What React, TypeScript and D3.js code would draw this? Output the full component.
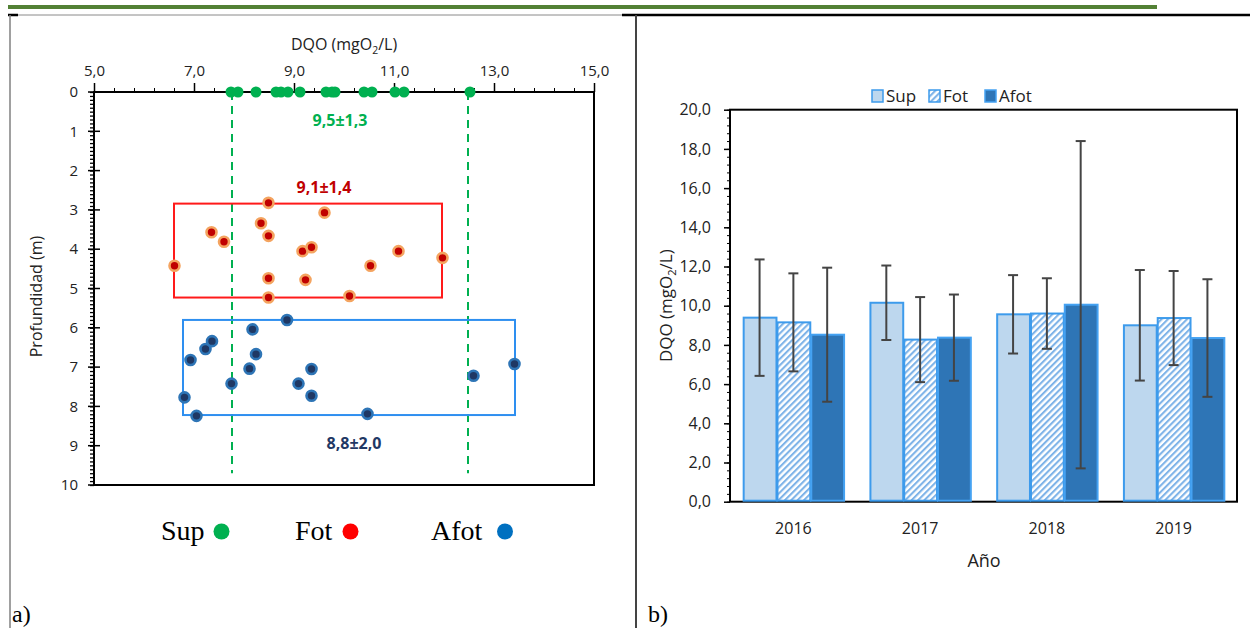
import React, { useEffect, useRef } from 'react'
import * as d3 from 'd3'

// a) DQO (mgO2/L) vs profundidad (m)
const supDQO = [7.74, 7.88, 8.24, 8.64, 8.74, 8.88, 9.12, 9.64, 9.76, 9.82, 10.4, 10.56, 11.02, 11.2, 12.52]
const supDepth = [0, 0, 0, 0, 0, 0, 0, 0, 0, 0, 0, 0, 0, 0, 0]
const fotDQO = [6.61, 7.35, 7.6, 8.34, 8.49, 8.49, 8.49, 8.49, 9.17, 9.35, 9.23, 9.61, 10.11, 10.53, 11.09, 11.97]
const fotDepth = [4.42, 3.57, 3.81, 3.34, 2.82, 3.66, 4.74, 5.23, 4.05, 3.95, 4.78, 3.07, 5.19, 4.42, 4.05, 4.22]
const afotDQO = [6.81, 6.93, 7.05, 7.23, 7.36, 7.75, 8.11, 8.17, 8.24, 8.86, 9.09, 9.35, 9.35, 10.47, 12.59, 13.41]
const afotDepth = [7.77, 6.82, 8.24, 6.54, 6.34, 7.42, 7.04, 6.04, 6.67, 5.8, 7.42, 7.05, 7.73, 8.19, 7.22, 6.92]
const supRange = [7.76, 12.48]
const fotBoxDQO = [6.6, 11.96]
const fotBoxDepth = [2.84, 5.23]
const afotBoxDQO = [6.78, 13.42]
const afotBoxDepth = [5.8, 8.22]
const statLabels = ['9,5±1,3', '9,1±1,4', '8,8±2,0']
const dqoTicks = [5, 7, 9, 11, 13, 15]
const depthTicks = [0, 1, 2, 3, 4, 5, 6, 7, 8, 9, 10]

// b) DQO por año
const years = ['2016', '2017', '2018', '2019']
const seriesNames = ['Sup', 'Fot', 'Afot']
const supMean = [9.39, 10.15, 9.56, 9.0]
const supSd = [2.97, 1.9, 2.0, 2.82]
const fotMean = [9.15, 8.27, 9.6, 9.37]
const fotSd = [2.5, 2.17, 1.8, 2.4]
const afotMean = [8.52, 8.37, 10.05, 8.35]
const afotSd = [3.42, 2.2, 8.35, 3.0]
const barTicks = [0, 2, 4, 6, 8, 10, 12, 14, 16, 18, 20]

const FONT = "'Open Sans', 'Noto Sans', sans-serif"
const SERIF = "'Liberation Serif', 'DejaVu Serif', serif"
const fmt = (v: number) => v.toFixed(1).replace('.', ',')

function addDqoTitle (g: any, size: number) {
  const t = g.append('text').attr('font-family', FONT).attr('font-size', size)
    .attr('text-anchor', 'middle').attr('fill', '#222')
  t.append('tspan').text('DQO (mgO')
  t.append('tspan').attr('font-size', size * 0.65).attr('dy', 4).text('2')
  t.append('tspan').attr('dy', -4).text('/L)')
  return t
}

export default function App () {
  const ref = useRef<SVGSVGElement>(null)

  useEffect(() => {
    const svg = d3.select(ref.current)
    svg.selectAll('*').remove()

    // page frame (document table)
    const page = svg.append('g')
    page.append('line').attr('x1', 8).attr('x2', 1157).attr('y1', 7).attr('y2', 7)
      .attr('stroke', '#538135').attr('stroke-width', 4)
    page.append('line').attr('x1', 18).attr('x2', 622).attr('y1', 15).attr('y2', 15)
      .attr('stroke', '#8a8a8a').attr('stroke-width', 1)
    page.append('line').attr('x1', 8).attr('x2', 18).attr('y1', 15).attr('y2', 15)
      .attr('stroke', '#000').attr('stroke-width', 2.5)
    page.append('line').attr('x1', 622).attr('x2', 1250).attr('y1', 15).attr('y2', 15)
      .attr('stroke', '#000').attr('stroke-width', 2.5)
    page.append('line').attr('x1', 10).attr('x2', 10).attr('y1', 15).attr('y2', 628)
      .attr('stroke', '#808080').attr('stroke-width', 1.5)
    page.append('line').attr('x1', 636).attr('x2', 636).attr('y1', 15).attr('y2', 628)
      .attr('stroke', '#444').attr('stroke-width', 2)
    page.append('text').attr('x', 12).attr('y', 622).attr('font-family', SERIF)
      .attr('font-size', 24).text('a)')
    page.append('text').attr('x', 648).attr('y', 622).attr('font-family', SERIF)
      .attr('font-size', 24).text('b)')

    // ---------- a) ----------
    const x = d3.scaleLinear().domain([5, 15]).range([94, 594])
    const y = d3.scaleLinear().domain([0, 10]).range([92, 485])
    const a = svg.append('g')

    addDqoTitle(a, 16).attr('x', 344).attr('y', 50)

    a.append('g').attr('transform', `translate(0,${y(0)})`)
      .call(d3.axisTop(x).tickValues(d3.range(5, 15.01, 0.4)).tickSize(4).tickFormat(() => ''))
      .call((g: any) => g.select('.domain').remove())
    a.append('g').attr('transform', `translate(0,${y(0)})`)
      .call(d3.axisTop(x).tickValues(dqoTicks).tickSize(9).tickPadding(7).tickFormat((d: any) => fmt(d)))
      .call((g: any) => g.select('.domain').remove())
      .call((g: any) => g.selectAll('text').attr('font-family', FONT).attr('font-size', 15).attr('fill', '#222'))
      .call((g: any) => g.selectAll('line').attr('stroke-width', 1.5))

    a.append('g').attr('transform', `translate(${x(5)},0)`)
      .call(d3.axisLeft(y).tickValues(d3.range(0, 10.001, 0.1)).tickSize(4).tickFormat(() => ''))
      .call((g: any) => g.select('.domain').remove())
      .call((g: any) => g.selectAll('line').attr('stroke-width', 1.3))
    a.append('g').selectAll('line').data(depthTicks).enter().append('line')
      .attr('x1', x(5) - 6).attr('x2', x(5) + 6).attr('y1', (d: number) => y(d)).attr('y2', (d: number) => y(d))
      .attr('stroke', '#000').attr('stroke-width', 1.5)
    a.append('g').selectAll('text').data(depthTicks).enter().append('text')
      .attr('x', 78).attr('y', (d: number) => y(d)).attr('dy', '0.35em').attr('text-anchor', 'end')
      .attr('font-family', FONT).attr('font-size', 15).attr('fill', '#222').text((d: number) => d)

    a.append('rect').attr('x', x(5)).attr('y', y(0)).attr('width', x(15) - x(5)).attr('height', y(10) - y(0))
      .attr('fill', 'none').attr('stroke', '#000').attr('stroke-width', 2)

    a.append('text').attr('transform', `translate(42,${(y(0) + y(10)) / 2 + 8}) rotate(-90)`)
      .attr('text-anchor', 'middle').attr('font-family', FONT).attr('font-size', 16).attr('fill', '#222')
      .text('Profundidad (m)')

    // dashed range lines of Sup
    a.append('g').selectAll('line').data(supRange).enter().append('line')
      .attr('x1', (d: number) => x(d)).attr('x2', (d: number) => x(d))
      .attr('y1', y(0)).attr('y2', y(9.7))
      .attr('stroke', '#00b050').attr('stroke-width', 2).attr('stroke-dasharray', '8,6')

    a.append('rect').attr('x', x(fotBoxDQO[0])).attr('y', y(fotBoxDepth[0]))
      .attr('width', x(fotBoxDQO[1]) - x(fotBoxDQO[0])).attr('height', y(fotBoxDepth[1]) - y(fotBoxDepth[0]))
      .attr('fill', 'none').attr('stroke', '#ff1a1a').attr('stroke-width', 2)
    a.append('rect').attr('x', x(afotBoxDQO[0])).attr('y', y(afotBoxDepth[0]))
      .attr('width', x(afotBoxDQO[1]) - x(afotBoxDQO[0])).attr('height', y(afotBoxDepth[1]) - y(afotBoxDepth[0]))
      .attr('fill', 'none').attr('stroke', '#2e8ff0').attr('stroke-width', 2)

    a.append('g').selectAll('circle').data(supDQO).enter().append('circle')
      .attr('cx', (d: number) => x(d)).attr('cy', (d: number, i: number) => y(supDepth[i])).attr('r', 5.5)
      .attr('fill', '#00b050')
    a.append('g').selectAll('circle').data(fotDQO).enter().append('circle')
      .attr('cx', (d: number) => x(d)).attr('cy', (d: number, i: number) => y(fotDepth[i])).attr('r', 5)
      .attr('fill', '#c00000').attr('stroke', '#f4a460').attr('stroke-width', 2.6)
    a.append('g').selectAll('circle').data(afotDQO).enter().append('circle')
      .attr('cx', (d: number) => x(d)).attr('cy', (d: number, i: number) => y(afotDepth[i])).attr('r', 5)
      .attr('fill', '#1f3864').attr('stroke', '#2e75b6').attr('stroke-width', 2.6)

    const statPos = [[9.92, 0.72, '#00b050'], [9.6, 2.43, '#c00000'], [10.2, 8.95, '#1f3864']]
    statLabels.forEach((s, i) => {
      a.append('text').attr('x', x(statPos[i][0] as number)).attr('y', y(statPos[i][1] as number))
        .attr('dy', '0.35em').attr('text-anchor', 'middle').attr('font-family', FONT)
        .attr('font-weight', 'bold').attr('font-size', 16).attr('fill', statPos[i][2] as string).text(s)
    })

    // legend a)
    const legA = [[161, 221.5, '#00b050'], [295, 350.5, '#ff0000'], [431, 505, '#0070c0']]
    seriesNames.forEach((n, i) => {
      a.append('text').attr('x', legA[i][0]).attr('y', 540).attr('font-family', SERIF)
        .attr('font-size', 28).attr('fill', '#000').text(n)
      a.append('circle').attr('cx', legA[i][1]).attr('cy', 531.5).attr('r', 8).attr('fill', legA[i][2] as string)
    })

    // ---------- b) ----------
    const defs = svg.append('defs')
    const pat = defs.append('pattern').attr('id', 'hatch').attr('patternUnits', 'userSpaceOnUse')
      .attr('width', 4.5).attr('height', 4.5).attr('patternTransform', 'rotate(45)')
    pat.append('rect').attr('width', 4.5).attr('height', 4.5).attr('fill', '#ffffff')
    pat.append('line').attr('x1', 1).attr('x2', 1).attr('y1', 0).attr('y2', 4.5)
      .attr('stroke', '#7eb3e8').attr('stroke-width', 2.2)

    const fills = ['#bdd7ee', 'url(#hatch)', '#2e75b6']
    const strokes = ['#3d9bec', '#3d9bec', '#45a2f2']
    const means = [supMean, fotMean, afotMean]
    const sds = [supSd, fotSd, afotSd]

    const bx = d3.scaleBand().domain(years).range([730, 1237]).paddingInner(0.2).paddingOuter(0.1)
    const sx = d3.scaleBand().domain(seriesNames).range([0, bx.bandwidth()])
    const by = d3.scaleLinear().domain([0, 20]).range([501.7, 109.7])
    const b = svg.append('g')

    b.append('g').attr('transform', 'translate(730,0)')
      .call(d3.axisLeft(by).tickValues(d3.range(0, 20.001, 0.4)).tickSize(3).tickFormat(() => ''))
      .call((g: any) => g.select('.domain').remove())
    b.append('g').attr('transform', 'translate(730,0)')
      .call(d3.axisLeft(by).tickValues(barTicks).tickSize(6).tickPadding(13).tickFormat((d: any) => fmt(d)))
      .call((g: any) => g.select('.domain').remove())
      .call((g: any) => g.selectAll('line').attr('stroke-width', 1.5))
      .call((g: any) => g.selectAll('text').attr('font-family', FONT).attr('font-size', 16).attr('fill', '#222'))

    b.append('rect').attr('x', 730).attr('y', by(20)).attr('width', 1237 - 730).attr('height', by(0) - by(20))
      .attr('fill', 'none').attr('stroke', '#000').attr('stroke-width', 2)

    const groups = b.selectAll('g.year').data(years).enter().append('g').attr('class', 'year')
      .attr('transform', (d: string) => `translate(${bx(d)},0)`)
    seriesNames.forEach((s, k) => {
      groups.append('rect')
        .attr('x', (sx(s) as number) + 1).attr('width', sx.bandwidth() - 1)
        .attr('y', (d: string, i: number) => by(means[k][i]))
        .attr('height', (d: string, i: number) => by(0) - by(means[k][i]) - 1)
        .attr('fill', fills[k]).attr('stroke', strokes[k]).attr('stroke-width', 2)
    })
    seriesNames.forEach((s, k) => {
      const cx = (sx(s) as number) + sx.bandwidth() / 2
      groups.append('line').attr('x1', cx).attr('x2', cx)
        .attr('y1', (d: string, i: number) => by(means[k][i] - sds[k][i]))
        .attr('y2', (d: string, i: number) => by(means[k][i] + sds[k][i]))
        .attr('stroke', '#444').attr('stroke-width', 2)
      groups.append('line').attr('x1', cx - 5).attr('x2', cx + 5)
        .attr('y1', (d: string, i: number) => by(means[k][i] + sds[k][i]))
        .attr('y2', (d: string, i: number) => by(means[k][i] + sds[k][i]))
        .attr('stroke', '#444').attr('stroke-width', 2)
      groups.append('line').attr('x1', cx - 5).attr('x2', cx + 5)
        .attr('y1', (d: string, i: number) => by(means[k][i] - sds[k][i]))
        .attr('y2', (d: string, i: number) => by(means[k][i] - sds[k][i]))
        .attr('stroke', '#444').attr('stroke-width', 2)
    })

    b.selectAll('text.year').data(years).enter().append('text').attr('class', 'year')
      .attr('x', (d: string) => (bx(d) as number) + bx.bandwidth() / 2).attr('y', 534)
      .attr('text-anchor', 'middle').attr('font-family', FONT).attr('font-size', 16).attr('fill', '#222')
      .text((d: string) => d)
    b.append('text').attr('x', 984).attr('y', 567).attr('text-anchor', 'middle')
      .attr('font-family', FONT).attr('font-size', 18).attr('fill', '#222').text('Año')

    const yt = b.append('g').attr('transform', `translate(672,${(by(0) + by(20)) / 2}) rotate(-90)`)
    addDqoTitle(yt, 17).attr('x', 0).attr('y', 0)

    // legend b)
    const legB = [872, 929, 985]
    seriesNames.forEach((n, k) => {
      b.append('rect').attr('x', legB[k]).attr('y', 90).attr('width', 11).attr('height', 12)
        .attr('fill', fills[k]).attr('stroke', strokes[k]).attr('stroke-width', 1.5)
      b.append('text').attr('x', legB[k] + 14).attr('y', 102).attr('font-family', FONT)
        .attr('font-size', 17).attr('fill', '#222').text(n)
    })
  }, [])

  return (
    <svg
      ref={ref}
      width={1250}
      height={628}
      style={{ position: 'absolute', left: 0, top: 0, background: '#fff' }}
    />
  )
}
